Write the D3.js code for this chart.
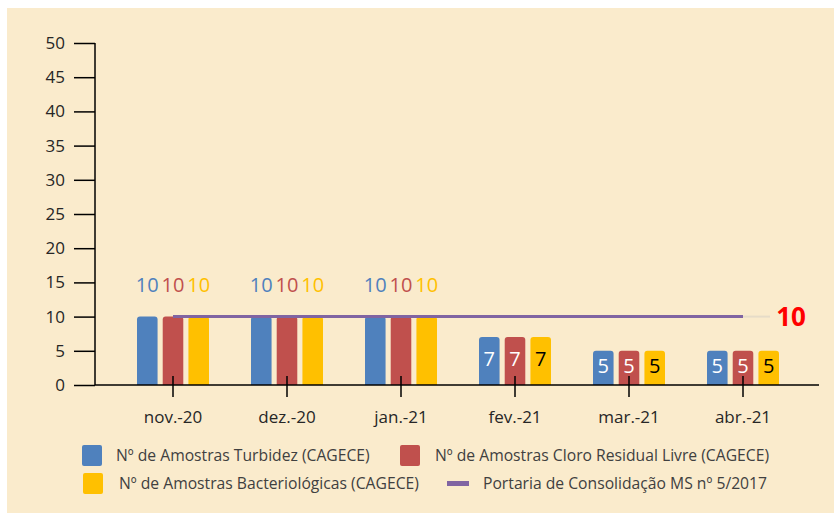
<!DOCTYPE html>
<html>
<head>
<meta charset="utf-8">
<script src="https://cdn.jsdelivr.net/npm/d3@7"></script>
<style>
  html, body { margin: 0; padding: 0; background: #ffffff; }
  svg { display: block; font-family: "Open Sans", sans-serif; }
</style>
</head>
<body>
<svg id="mySvg" width="834" height="513"></svg>
<script>
// data
var months = ["nov.-20", "dez.-20", "jan.-21", "fev.-21", "mar.-21", "abr.-21"];
var turbidez = [10, 10, 10, 7, 5, 5];
var cloro = [10, 10, 10, 7, 5, 5];
var bacterio = [10, 10, 10, 7, 5, 5];
var portaria = [10, 10, 10, 10, 10, 10];
var yTicks = [0, 5, 10, 15, 20, 25, 30, 35, 40, 45, 50];
var seriesNames = [
    "Nº de Amostras Turbidez (CAGECE)",
    "Nº de Amostras Cloro Residual Livre (CAGECE)",
    "Nº de Amostras Bacteriológicas (CAGECE)",
    "Portaria de Consolidação MS nº 5/2017"
];

var colors = ["#4F81BD", "#C0504D", "#FFC000", "#8064A2"];
var labelColors = ["#ffffff", "#ffffff", "#000000"];
var barSeries = [turbidez, cloro, bacterio];

var svg = d3.select("#mySvg");

// background panel
svg.append("rect")
    .attr("x", 7)
    .attr("y", 8)
    .attr("width", 827)
    .attr("height", 505)
    .attr("fill", "#FAEBCC");

var xScale = d3.scaleBand()
    .domain(months)
    .range([116, 800]);

var xInner = d3.scaleBand()
    .domain([0, 1, 2])
    .range([-36, 36])
    .paddingInner(0.2);

var yScale = d3.scaleLinear()
    .domain([0, 50])
    .range([385, 43]);

function cx(m) { return xScale(m) + xScale.bandwidth() / 2; }

// rounded top bar path
function barPath(x, y, w, h, r) {
    r = Math.min(r, h / 2);
    return "M" + x + "," + (y + h) +
        "V" + (y + r) +
        "Q" + x + "," + y + " " + (x + r) + "," + y +
        "H" + (x + w - r) +
        "Q" + (x + w) + "," + y + " " + (x + w) + "," + (y + r) +
        "V" + (y + h) + "Z";
}

// bars
barSeries.forEach(function(values, s) {
    svg.selectAll(".bar" + s)
        .data(values)
        .enter()
        .append("path")
        .attr("class", "bar" + s)
        .attr("fill", colors[s])
        .attr("d", function(d, i) {
            var x = cx(months[i]) + xInner(s);
            return barPath(x, yScale(d), xInner.bandwidth(), yScale(0) - yScale(d), 3);
        });
});

// reference line (Portaria)
var line = d3.line()
    .x(function(d, i) { return cx(months[i]); })
    .y(function(d) { return yScale(d); });

svg.append("line")
    .attr("x1", cx(months[months.length - 1]))
    .attr("x2", 770)
    .attr("y1", yScale(10))
    .attr("y2", yScale(10))
    .attr("stroke", "#E6DCC8")
    .attr("stroke-width", 2);

svg.append("path")
    .datum(portaria)
    .attr("d", line)
    .attr("fill", "none")
    .attr("stroke", colors[3])
    .attr("stroke-width", 3);

svg.append("text")
    .attr("x", 791)
    .attr("y", yScale(10))
    .attr("dy", "0.35em")
    .attr("text-anchor", "middle")
    .attr("font-size", 26)
    .attr("font-weight", "bold")
    .attr("fill", "#FF0000")
    .text("10");

// value labels
barSeries.forEach(function(values, s) {
    svg.selectAll(".lab" + s)
        .data(values)
        .enter()
        .append("text")
        .attr("class", "lab" + s)
        .attr("text-anchor", "middle")
        .attr("font-size", 20)
        .attr("x", function(d, i) { return cx(months[i]) + xInner(s) + xInner.bandwidth() / 2; })
        .attr("y", function(d) {
            if (d >= 10) return yScale(d) - 32;
            return (yScale(d) + yScale(0)) / 2 - 2;
        })
        .attr("dy", "0.35em")
        .attr("fill", function(d) { return d >= 10 ? colors[s] : labelColors[s]; })
        .text(function(d) { return d; });
});

// axes
var y_axis = d3.axisLeft(yScale)
    .tickValues(yTicks)
    .tickSize(21)
    .tickPadding(9);

var gy = svg.append("g")
    .attr("transform", "translate(95,0)")
    .call(y_axis);
gy.select(".domain").remove();
gy.selectAll("line").attr("stroke", "#000").attr("stroke-width", 1.5);
gy.selectAll("text")
    .attr("font-family", "Open Sans, sans-serif")
    .attr("font-size", 17)
    .attr("fill", "#262626");

svg.append("line")
    .attr("x1", 95).attr("x2", 95)
    .attr("y1", yScale(50)).attr("y2", yScale(0))
    .attr("stroke", "#000")
    .attr("stroke-width", 1.5);

svg.append("line")
    .attr("x1", 95).attr("x2", 819)
    .attr("y1", yScale(0)).attr("y2", yScale(0))
    .attr("stroke", "#000")
    .attr("stroke-width", 1.5);

var x_axis = d3.axisBottom(xScale)
    .tickSizeInner(12)
    .tickSizeOuter(0)
    .tickPadding(14);

var gx = svg.append("g")
    .attr("transform", "translate(0," + yScale(0) + ")")
    .call(x_axis);
gx.select(".domain").remove();
gx.selectAll("line")
    .attr("y1", -9)
    .attr("stroke", "#000")
    .attr("stroke-width", 1.5);
gx.selectAll("text")
    .attr("font-family", "Open Sans, sans-serif")
    .attr("font-size", 17)
    .attr("fill", "#262626");

// legend
var legendItems = [
    { name: seriesNames[0], color: colors[0], x: 82, y: 445, tx: 116, type: "box" },
    { name: seriesNames[1], color: colors[1], x: 400, y: 445, tx: 435, type: "box" },
    { name: seriesNames[2], color: colors[2], x: 83, y: 473, tx: 119, type: "box" },
    { name: seriesNames[3], color: colors[3], x: 447, y: 473, tx: 483, type: "line" }
];

var legend = svg.append("g").attr("class", "legend");
legendItems.forEach(function(d) {
    if (d.type === "box") {
        legend.append("rect")
            .attr("x", d.x)
            .attr("y", d.y)
            .attr("width", 20)
            .attr("height", 21)
            .attr("rx", 2)
            .attr("fill", d.color);
    } else {
        legend.append("rect")
            .attr("x", d.x)
            .attr("y", d.y + 8)
            .attr("width", 22)
            .attr("height", 5)
            .attr("fill", d.color);
    }
    legend.append("text")
        .attr("x", d.tx)
        .attr("y", d.y + 11)
        .attr("dy", "0.35em")
        .attr("font-size", 15.7)
        .attr("fill", "#404040")
        .text(d.name);
});
</script>
</body>
</html>
